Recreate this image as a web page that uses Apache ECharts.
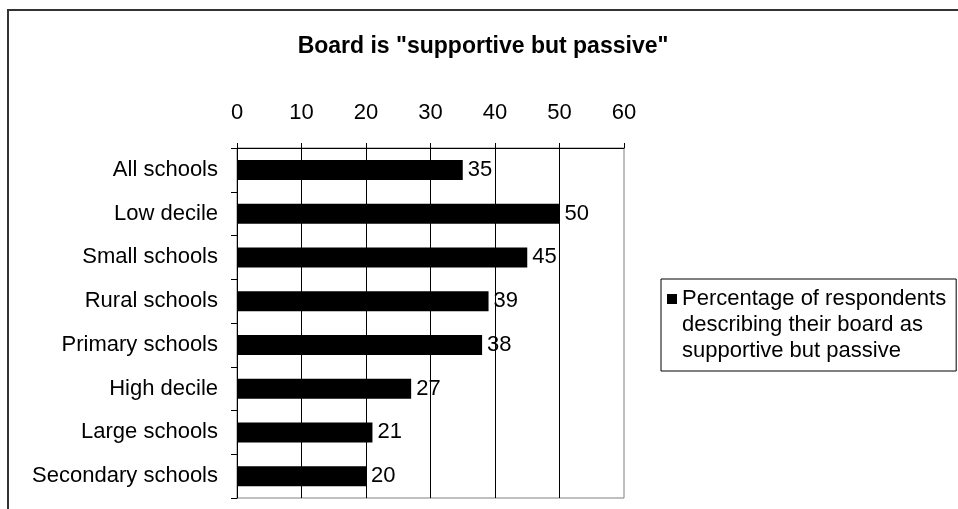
<!DOCTYPE html>
<html>
<head>
<meta charset="utf-8">
<script src="https://cdn.jsdelivr.net/npm/echarts@6/dist/echarts.min.js"></script>
<style>
html,body{margin:0;padding:0;background:#fff;}
#chart{width:958px;height:509px;}
</style>
</head>
<body>
<div id="chart"></div>
<script>
const titleText = 'Board is "supportive but passive"';
const categories = ['All schools','Low decile','Small schools','Rural schools','Primary schools','High decile','Large schools','Secondary schools'];
const values = [35, 50, 45, 39, 38, 27, 21, 20];
const seriesName = 'Percentage of respondents describing their board as supportive but passive';
const legendLines = ['Percentage of respondents','describing their board as','supportive but passive'];
const xMin = 0, xMax = 60, xStep = 10;

const FONT = 'Liberation Sans, Arial, sans-serif';
const FS = 22;
const chart = echarts.init(document.getElementById('chart'), null, {renderer: 'canvas'});

chart.setOption({
  animation: false,
  backgroundColor: '#fff',
  textStyle: {fontFamily: FONT},
  title: {
    text: titleText,
    left: 478,
    textAlign: 'center',
    top: 30,
    textStyle: {fontFamily: FONT, fontWeight: 'bold', fontSize: 23, color: '#000'}
  },
  graphic: [{
    type: 'rect',
    shape: {x: 8, y: 10, width: 1200, height: 800},
    style: {fill: 'none', stroke: '#333', lineWidth: 2},
    silent: true
  }],
  grid: {
    left: 237, right: 334, top: 148, bottom: 11,
    show: true, borderColor: '#808080', borderWidth: 1, backgroundColor: 'transparent'
  },
  legend: {
    show: true,
    data: [seriesName],
    orient: 'vertical',
    left: 661, top: 279,
    padding: [7, 10, 7, 1],
    borderColor: '#000', borderWidth: 1,
    itemWidth: 0, itemHeight: 0, itemGap: 0,
    icon: 'none',
    selectedMode: false,
    formatter: function () {
      return '{sq|}{gap|}{t|' + legendLines[0] + '}\n{pad|}{t|' + legendLines[1] + '}\n{pad|}{t|' + legendLines[2] + '}';
    },
    textStyle: {
      fontFamily: FONT, fontSize: FS, color: '#000', lineHeight: 26,
      rich: {
        sq: {width: 10, height: 10, backgroundColor: '#000'},
        gap: {width: 5},
        pad: {width: 15},
        t: {fontFamily: FONT, fontSize: FS, color: '#000', lineHeight: 26}
      }
    }
  },
  xAxis: {
    type: 'value',
    position: 'top',
    min: xMin, max: xMax, interval: xStep,
    axisLine: {show: true, lineStyle: {color: '#000', width: 1}},
    axisTick: {show: true, length: 5, lineStyle: {color: '#000'}},
    axisLabel: {fontFamily: FONT, fontSize: FS, color: '#000', margin: 24},
    splitLine: {show: true, showMinLine: false, showMaxLine: false, lineStyle: {color: '#000', width: 1}}
  },
  yAxis: {
    type: 'category',
    data: categories,
    inverse: true,
    axisLine: {show: true, lineStyle: {color: '#000', width: 1}},
    axisTick: {show: true, length: 6, lineStyle: {color: '#000'}},
    axisLabel: {fontFamily: FONT, fontSize: FS, color: '#000', margin: 19}
  },
  series: [{
    name: seriesName,
    type: 'bar',
    data: values,
    barWidth: 20,
    itemStyle: {color: '#000'},
    label: {show: true, position: 'right', distance: 5, fontFamily: FONT, fontSize: FS, color: '#000'}
  }]
});
</script>
</body>
</html>
